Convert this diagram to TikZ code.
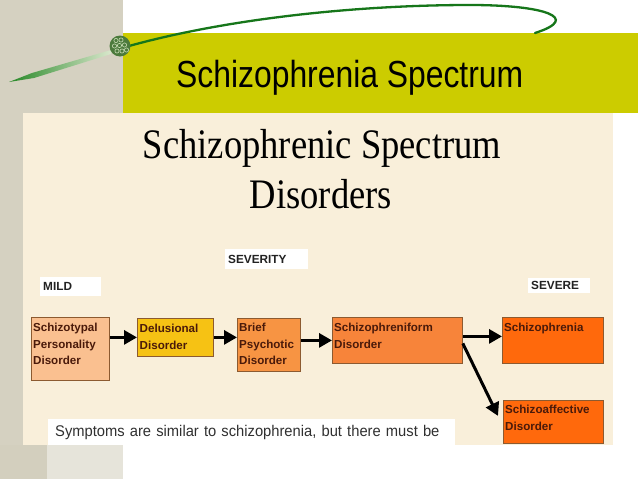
\documentclass[tikz,border=0pt]{standalone}
\usepackage{fontspec}
\usetikzlibrary{arrows.meta,calc}
\newfontfamily\hdsans[FakeStretch=0.845]{Liberation Sans}
\newfontfamily\hdserif[FakeStretch=0.87]{Liberation Serif}
\newfontfamily\smsans{Liberation Sans}
\newfontfamily\notesans[FakeStretch=0.95]{Liberation Sans}
\definecolor{graytop}{HTML}{D5D1C1}
\definecolor{graydark}{HTML}{D3CFBE}
\definecolor{graylight}{HTML}{E6E4DA}
\definecolor{oliveband}{HTML}{CCCC00}
\definecolor{creampanel}{HTML}{F9EFDA}
\definecolor{darkgreen}{HTML}{16761A}
\definecolor{balldark}{HTML}{4B7A3C}
\definecolor{ballring}{HTML}{C9DDB6}
\definecolor{cpeach}{HTML}{FAC090}
\definecolor{cgold}{HTML}{F6C214}
\definecolor{corange}{HTML}{F79443}
\definecolor{corangeb}{HTML}{F7843A}
\definecolor{cred}{HTML}{FF690C}
\definecolor{boxborder}{HTML}{8C5A30}
\definecolor{boxtext}{HTML}{4A1A0A}
\definecolor{labeltext}{HTML}{222222}
\definecolor{bottomtext}{HTML}{303030}
\tikzset{
  dbox/.style={draw=boxborder, line width=0.8pt, anchor=north west, inner sep=0pt},
  btext/.style={anchor=north west, inner sep=0pt, align=left, text=boxtext,
    font=\smsans\bfseries\fontsize{11.6}{16.5}\selectfont},
  lbl/.style={fill=white, anchor=north west, inner xsep=3pt, inner ysep=0pt, align=left,
    text=labeltext, font=\smsans\bfseries\fontsize{11.8}{14}\selectfont},
  arr/.style={line width=3pt, black, -{Triangle[length=13pt,width=14pt]}}
}
\begin{document}
\begin{tikzpicture}[x=1pt,y=-1pt]
\useasboundingbox (0,0) rectangle (638,479);
\fill[white] (0,0) rectangle (638,479);
% background template
\fill[graytop] (0,0) rectangle (123,445);
\fill[graydark] (0,445) rectangle (47,479);
\fill[graylight] (47,445) rectangle (123,479);
\fill[oliveband] (123,33) rectangle (638,113);
\fill[creampanel] (23,113) rectangle (613,445);
% green strokes
\shade[left color=green!45!black!85, right color=ballring!70!white]
  (9,82) -- (32,73) -- (111,50) -- (111,54) -- (34,78) -- cycle;
\draw[darkgreen, line width=2.3pt, line cap=round]
  (129,46) .. controls (230,18) and (360,5) .. (470,5)
  .. controls (545,5) and (582,18) .. (535,33);
\fill[balldark] (120,46) circle (10.5);
\foreach \p in {(116,40.5),(121,40),(114.5,46),(119.5,45.5),(124.5,45),(117,51),(122,51),(126.5,50)}
  \draw[ballring, line width=0.6pt] \p circle (2.1);
% titles
\node[font=\hdsans\fontsize{37.7}{40}\selectfont, anchor=base west, inner sep=0pt] (title) at (176,87) {Schizophrenia Spectrum};
\node[font=\hdserif\fontsize{42}{50}\selectfont, anchor=base, inner sep=0pt] (pt1) at (322,158) {Schizophrenic Spectrum};
\node[font=\hdserif\fontsize{42}{50}\selectfont, anchor=base, inner sep=0pt] (pt2) at (321,208) {Disorders};
% labels
\node[lbl, text width=55pt, minimum height=19pt] (mild) at (40,277) {MILD};
\node[lbl, text width=77pt, minimum height=20pt] (sev) at (225,249) {SEVERITY};
\node[lbl, text width=56pt, minimum height=15pt] (severe) at (528,278) {SEVERE};
% boxes
\node[dbox, fill=cpeach, minimum width=78pt, minimum height=63pt] (b1) at (31,317) {};
\node[dbox, fill=cgold, minimum width=76pt, minimum height=38pt] (b2) at (137,318) {};
\node[dbox, fill=corange, minimum width=63pt, minimum height=53pt] (b3) at (237,318) {};
\node[dbox, fill=corangeb, minimum width=130pt, minimum height=46pt] (b4) at (332,317) {};
\node[dbox, fill=cred, minimum width=101pt, minimum height=46pt] (b5) at (502,317) {};
\node[dbox, fill=cred, minimum width=100pt, minimum height=43pt] (b6) at (503,400) {};
\node[btext] (t1) at ($(b1.north west)+(2,6)$) {Schizotypal\\Personality\\Disorder};
\node[btext] (t2) at ($(b2.north west)+(2.5,6)$) {Delusional\\Disorder};
\node[btext] (t3) at ($(b3.north west)+(2,5)$) {Brief\\Psychotic\\Disorder};
\node[btext] (t4) at ($(b4.north west)+(2,6)$) {Schizophreniform\\Disorder};
\node[btext] (t5) at ($(b5.north west)+(2,6)$) {Schizophrenia};
\node[btext] (t6) at ($(b6.north west)+(2,5)$) {Schizoaffective\\Disorder};
% arrows
\draw[arr] (b1.east |- b2.west) -- (b2.west);
\draw[arr] (b2.east) -- (b3.west |- b2.east);
\draw[arr] (b3.east |- b4.west) -- (b4.west);
\draw[arr] ($(b4.east)+(0,-4)$) -- ($(b5.west)+(0,-4)$);
\draw[arr] ($(b4.east)+(0,3)$) -- ($(b6.west)+(-5,-6)$);
% bottom text
\node[fill=white, anchor=north west, inner xsep=7pt, inner ysep=0pt, text width=393pt, minimum height=26pt, align=left,
  text=bottomtext, font=\notesans\fontsize{15.5}{18}\selectfont] (note) at (48,419)
  {Symptoms are similar to schizophrenia, but there must be};
\end{tikzpicture}
\end{document}
